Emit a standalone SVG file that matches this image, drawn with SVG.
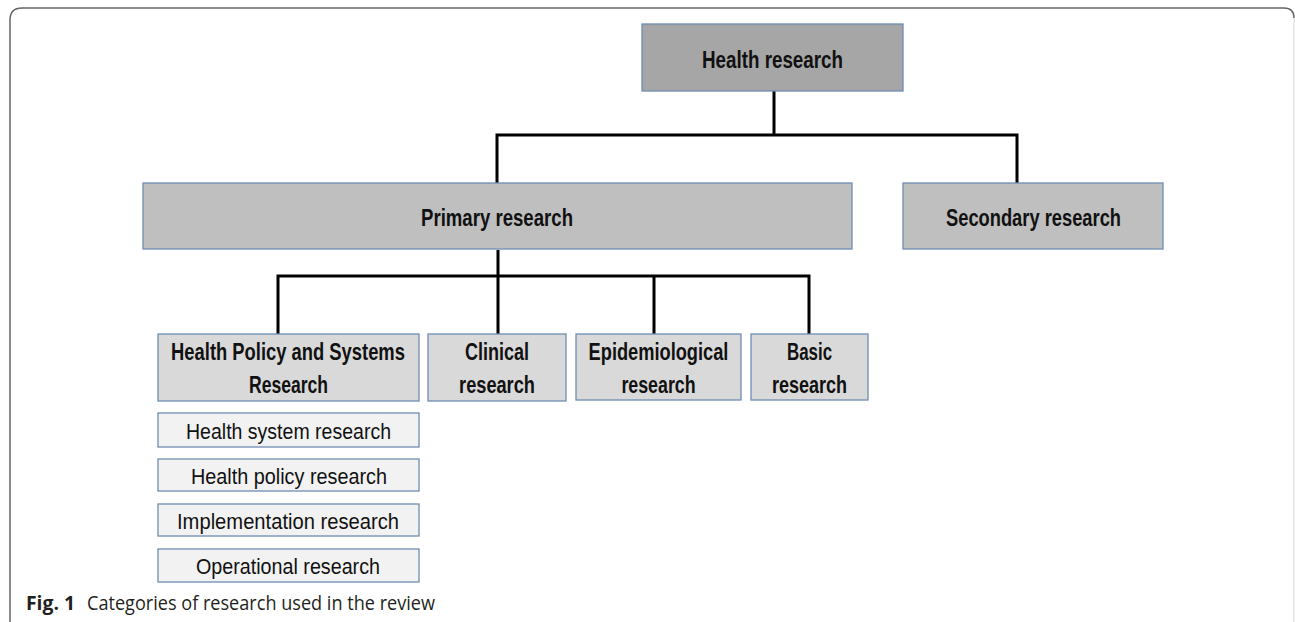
<svg xmlns="http://www.w3.org/2000/svg" width="1295" height="622" viewBox="0 0 1295 622">
<style>
.box{stroke:#6d8db3;stroke-width:1.3}
.l1{fill:#a6a6a6}
.l2{fill:#bfbfbf}
.l3{fill:#d9d9d9}
.l4{fill:#f2f2f2}
.b{font-family:"Liberation Sans",Arial,sans-serif;font-weight:bold;font-size:23.5px;fill:#111;text-anchor:middle}
.r{font-family:"Liberation Sans",Arial,sans-serif;font-size:22.5px;fill:#111;text-anchor:middle}
.conn{fill:none;stroke:#000;stroke-width:3}
</style>
<rect width="1295" height="622" fill="#fff"/>
<path d="M10,630 L10,20 Q10,8 22,8 L1284,8 Q1294,8 1294,18" fill="none" stroke="#666" stroke-width="1.5"/>
<line x1="1294" y1="18" x2="1294" y2="622" stroke="#ddd" stroke-width="1.2"/>
<g id="connectors">
<path class="conn" d="M774,91 V135 M497,183 V135 H1017 V183"/>
<path class="conn" d="M498,250 V276 M278,334 V276 H809 V334 M498,276 V334 M654,276 V334"/>
</g>
<g id="health-research">
<rect class="box l1" x="642" y="24" width="261" height="67"/>
<text class="b" x="772.5" y="68" textLength="141" lengthAdjust="spacingAndGlyphs">Health research</text>
</g>
<g id="primary-research">
<rect class="box l2" x="143" y="183" width="709" height="66"/>
<text class="b" x="497" y="226" textLength="152" lengthAdjust="spacingAndGlyphs">Primary research</text>
</g>
<g id="secondary-research">
<rect class="box l2" x="903" y="183" width="260" height="66"/>
<text class="b" x="1033.5" y="226" textLength="175" lengthAdjust="spacingAndGlyphs">Secondary research</text>
</g>
<g id="hpsr">
<rect class="box l3" x="158" y="334" width="261" height="67"/>
<g transform="translate(288,0) scale(0.79,1)">
<text class="b" x="0" y="360" textLength="296" lengthAdjust="spacingAndGlyphs">Health Policy and Systems</text>
<text class="b" x="0.6" y="393" textLength="100" lengthAdjust="spacingAndGlyphs">Research</text>
</g>
</g>
<g id="clinical">
<rect class="box l3" x="428" y="334" width="138" height="67"/>
<g transform="translate(497,0) scale(0.79,1)">
<text class="b" x="0" y="360" textLength="81" lengthAdjust="spacingAndGlyphs">Clinical</text>
<text class="b" x="0" y="393" textLength="96" lengthAdjust="spacingAndGlyphs">research</text>
</g>
</g>
<g id="epidemiological">
<rect class="box l3" x="576" y="334" width="165" height="66"/>
<g transform="translate(658.5,0) scale(0.79,1)">
<text class="b" x="0" y="360" textLength="177" lengthAdjust="spacingAndGlyphs">Epidemiological</text>
<text class="b" x="0" y="393" textLength="94" lengthAdjust="spacingAndGlyphs">research</text>
</g>
</g>
<g id="basic">
<rect class="box l3" x="751" y="334" width="117" height="66"/>
<g transform="translate(809.5,0) scale(0.79,1)">
<text class="b" x="0" y="360" textLength="57" lengthAdjust="spacingAndGlyphs">Basic</text>
<text class="b" x="0" y="393" textLength="95" lengthAdjust="spacingAndGlyphs">research</text>
</g>
</g>
<g id="health-system-research">
<rect class="box l4" x="158" y="413" width="261" height="34"/>
<text class="r" x="288.5" y="439" textLength="205" lengthAdjust="spacingAndGlyphs">Health system research</text>
</g>
<g id="health-policy-research">
<rect class="box l4" x="158" y="459" width="261" height="32"/>
<text class="r" x="289" y="484" textLength="196" lengthAdjust="spacingAndGlyphs">Health policy research</text>
</g>
<g id="implementation-research">
<rect class="box l4" x="158" y="504" width="261" height="32"/>
<text class="r" x="288" y="529" textLength="222" lengthAdjust="spacingAndGlyphs">Implementation research</text>
</g>
<g id="operational-research">
<rect class="box l4" x="158" y="549" width="261" height="33"/>
<text class="r" x="288" y="574" textLength="184" lengthAdjust="spacingAndGlyphs">Operational research</text>
</g>
<g id="caption" font-family="'Open Sans','Liberation Sans',Arial,sans-serif" font-size="19.5" fill="#231f20">
<text x="26" y="610" font-weight="bold" textLength="49" lengthAdjust="spacingAndGlyphs">Fig. 1</text>
<text x="87" y="610" textLength="348" lengthAdjust="spacingAndGlyphs">Categories of research used in the review</text>
</g>
</svg>
